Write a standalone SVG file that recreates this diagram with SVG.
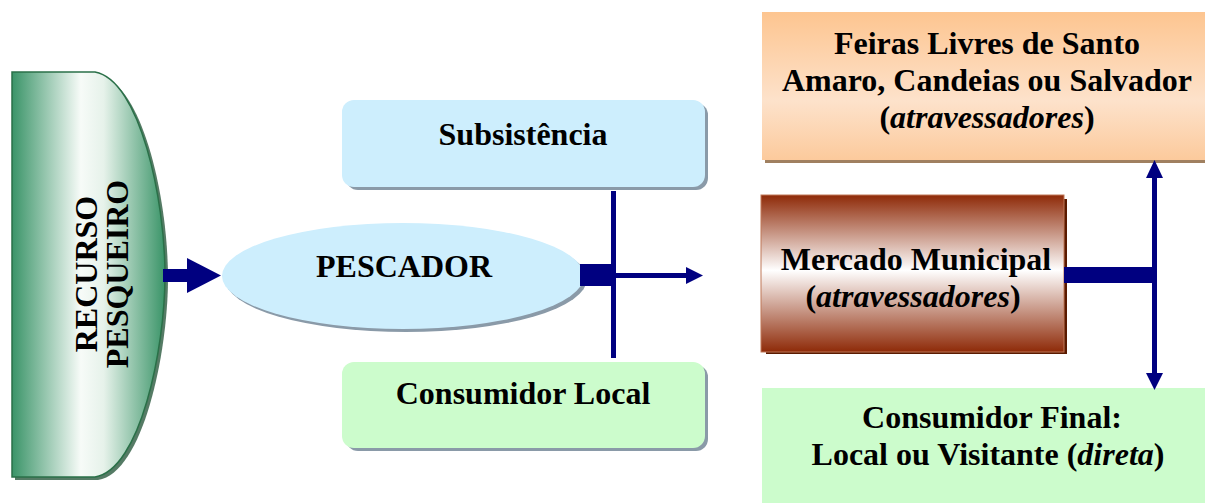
<svg xmlns="http://www.w3.org/2000/svg" width="1205" height="503" viewBox="0 0 1205 503">
<defs>
<linearGradient id="gGreen" x1="0" y1="0" x2="1" y2="0">
<stop offset="0" stop-color="#3a9468"/>
<stop offset="0.45" stop-color="#f7fbf8"/>
<stop offset="0.6" stop-color="#e6f2ea"/>
<stop offset="1" stop-color="#3a9468"/>
</linearGradient>
<linearGradient id="gOrange" x1="0" y1="0" x2="0" y2="1">
<stop offset="0" stop-color="#fdc590"/>
<stop offset="0.6" stop-color="#fde2cb"/>
<stop offset="1" stop-color="#fcca9c"/>
</linearGradient>
<linearGradient id="gBrown" x1="0" y1="0" x2="0" y2="1">
<stop offset="0" stop-color="#8e2a08"/>
<stop offset="0.48" stop-color="#ffffff"/>
<stop offset="1" stop-color="#8e2a08"/>
</linearGradient>
<marker id="ah" viewBox="0 0 10 10" refX="10" refY="5" markerWidth="3.6" markerHeight="3.6" orient="auto-start-reverse" markerUnits="strokeWidth">
<path d="M0,0 L10,5 L0,10 Z" fill="#000080"/>
</marker>
</defs>
<style>
text { font-family: "Liberation Serif", "Times New Roman", serif; font-weight: bold; font-size: 32px; fill: #000; }
.it { font-style: italic; }
.blue { fill: #cdeefd; }
.green { fill: #ccfccc; }
.shadow { fill: #8a9aa8; }
.conn { stroke: #000080; fill: none; }
</style>
<rect width="1205" height="503" fill="#ffffff"/>

<g id="recurso">
<path d="M15,75 L98,75 C143,83 168,200 168,278 C168,353 143,473 98,480 L15,480 Z" fill="#2b5a3e" opacity="0.8"/>
<path d="M12,72 L95,72 C140,80 165,200 165,275 C165,350 140,470 95,477 L12,477 Z" fill="url(#gGreen)" stroke="#2a7048" stroke-width="1.5"/>
<text transform="translate(97,274) rotate(-90)" text-anchor="middle" font-size="30">RECURSO</text>
<text transform="translate(128,274) rotate(-90)" text-anchor="middle" font-size="30">PESQUEIRO</text>
</g>

<g id="subsistencia">
<rect x="346" y="103" width="362" height="87" rx="12" class="shadow"/>
<rect x="342" y="100" width="363" height="87" rx="12" class="blue"/>
<text x="523" y="145" text-anchor="middle">Subsistência</text>
</g>

<g id="pescador">
<ellipse cx="406" cy="279" rx="181" ry="53" class="shadow"/>
<ellipse cx="403" cy="276" rx="181" ry="53" class="blue"/>
<text x="404" y="277" text-anchor="middle">PESCADOR</text>
</g>

<g id="consumidor-local">
<rect x="346" y="365" width="362" height="86" rx="12" class="shadow"/>
<rect x="342" y="362" width="363" height="86" rx="12" class="green"/>
<text x="523" y="404" text-anchor="middle">Consumidor Local</text>
</g>

<g id="feiras">
<rect x="765" y="15" width="440" height="148" fill="#a08060"/>
<rect x="762" y="12" width="443" height="148" fill="url(#gOrange)"/>
<text x="987" y="54" text-anchor="middle">Feiras Livres de Santo</text>
<text x="987" y="91" text-anchor="middle">Amaro, Candeias ou Salvador</text>
<text x="987" y="128" text-anchor="middle">(<tspan class="it">atravessadores</tspan>)</text>
</g>

<g id="mercado">
<rect x="766" y="199" width="301" height="155" fill="#5a1a00"/>
<rect x="761" y="195" width="303" height="157" fill="url(#gBrown)" stroke="#c07858" stroke-width="1"/>
<text x="916" y="270" text-anchor="middle">Mercado Municipal</text>
<text x="913" y="307" text-anchor="middle">(<tspan class="it">atravessadores</tspan>)</text>
</g>

<g id="consumidor-final">
<rect x="762" y="388" width="443" height="115" class="green"/>
<text x="992" y="428" text-anchor="middle">Consumidor Final:</text>
<text x="988" y="465" text-anchor="middle">Local ou Visitante (<tspan class="it">direta</tspan>)</text>
</g>

<g id="connectors">
<rect x="163" y="269" width="25" height="13" fill="#000080"/>
<polygon points="187,258 221,275.5 187,293" fill="#000080"/>
<rect x="580" y="264" width="34" height="22" fill="#000080"/>
<line x1="613.5" y1="191" x2="613.5" y2="358" class="conn" stroke-width="5"/>
<line x1="613" y1="275.5" x2="687" y2="275.5" class="conn" stroke-width="5"/>
<polygon points="686,267 703,275.5 686,284" fill="#000080"/>
<rect x="1064" y="267" width="91" height="16" fill="#000080"/>
<line x1="1154.5" y1="176" x2="1154.5" y2="375" class="conn" stroke-width="5"/>
<polygon points="1146,178 1154.5,160 1163,178" fill="#000080"/>
<polygon points="1146,373 1154.5,390 1163,373" fill="#000080"/>
</g>
</svg>
